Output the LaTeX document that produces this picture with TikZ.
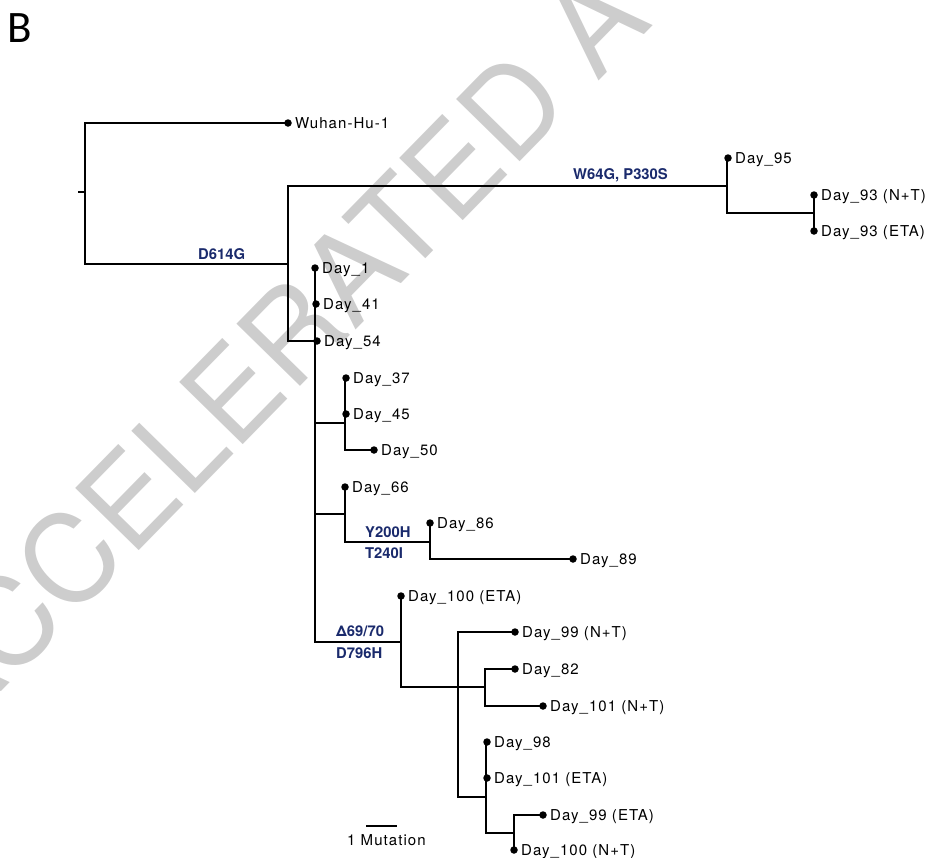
\documentclass[tikz,border=0pt]{standalone}
\usepackage{fontspec}
\setsansfont{TeX Gyre Heros}
\newfontfamily\tipfont[LetterSpace=7]{TeX Gyre Heros}
\newfontfamily\panelfont{Carlito}
\usetikzlibrary{calc}
\definecolor{cnavy}{HTML}{1A2A6C}
\definecolor{cmark}{HTML}{CDCDCD}
\tikzset{
  tree/.style={draw=black, line width=2.8pt, line join=miter},
  leaf/.style={circle, fill=black, inner sep=0pt, minimum size=7.5pt},
  tiplab/.style={anchor=base west, inner sep=0pt, font=\tipfont\fontsize{15}{18}\selectfont},
  mutlab/.style={anchor=base west, inner sep=0pt, text=cnavy, font=\sffamily\bfseries\fontsize{14.8}{18}\selectfont},
}

\begin{document}
\begin{tikzpicture}[x=1pt, y=-1pt]
  \useasboundingbox (0,0) rectangle (934,857);
  \begin{scope}
    \clip (0,0) rectangle (934,857);
    \node[rotate=45.6, anchor=base west, inner sep=0pt, text=cmark, font=\sffamily\fontsize{122}{122}\selectfont] (mark) at (-46,740) {ACCELERATED A};
  \end{scope}
  \node[anchor=base west, inner sep=0pt, font=\panelfont\fontsize{45}{45}\selectfont] (panel) at (7,42) {B};

  \coordinate (stub) at (78,192);
  \foreach \n/\x/\y in {root/85/192, n1/288/264, n2/727/186, n4/814/213, n3/315/341, n5/345/423, n6/345/514,
    n7/430/542, n8/401/642, n9/458/687, n10/485/687, n11/486/797, n12/514/833}
    \coordinate (\n) at (\x,\y);

  \foreach \n/\x/\y/\txt in {wuhan/288/123/Wuhan-Hu-1, d95/728/158/Day\_95, d93nt/814/195/Day\_93 (N+T),
    d93eta/814/231/Day\_93 (ETA), d1/315/268/Day\_1, d41/316/304/Day\_41, d54/317/341/Day\_54,
    d37/346/378/Day\_37, d45/346/414/Day\_45, d50/374/450/Day\_50, d66/345/487/Day\_66,
    d86/430/523/Day\_86, d89/573/559/Day\_89, d100eta/401/596/Day\_100 (ETA), d99nt/515/632/Day\_99 (N+T),
    d82/515/669/Day\_82, d101nt/543/706/Day\_101 (N+T), d98/487/742/Day\_98, d101eta/487/778/Day\_101 (ETA),
    d99eta/543/815/Day\_99 (ETA), d100nt/514/850/Day\_100 (N+T)} {
    \node[leaf] (\n) at (\x,\y) {};
    \node[tiplab] (\n-lab) at ($(\n)+(7,5.4)$) {\txt};
  }

  \draw[tree] (stub) -- (root);
  \foreach \p/\c in {root/wuhan, root/n1, n1/n2, n1/n3, n2/d95, n2/n4, n4/d93nt, n4/d93eta,
    n3/d1, n3/d41, n3/d54, n3/n5, n3/n6, n3/n8, n5/d37, n5/d45, n5/d50, n6/d66, n6/n7, n7/d86, n7/d89,
    n8/d100eta, n8/n9, n9/d99nt, n9/n10, n9/n11, n10/d82, n10/d101nt, n11/d98, n11/d101eta, n11/n12,
    n12/d99eta, n12/d100nt}
    \draw[tree] (\p) |- (\c.center);

  \node[mutlab] (m1) at (198,259) {D614G};
  \node[mutlab] (m2) at (573,179) {W64G, P330S};
  \node[mutlab] (m3) at (365,537) {Y200H};
  \node[mutlab] (m4) at (365,558) {T240I};
  \node[mutlab] (m5) at (336,636) {Δ69/70};
  \node[mutlab] (m6) at (336,658) {D796H};

  \coordinate (sb1) at (366,826);
  \coordinate (sb2) at (397,826);
  \draw[line width=2.5pt] (sb1) -- (sb2);
  \node[tiplab] (sblab) at (347,845) {1 Mutation};
\end{tikzpicture}
\end{document}
